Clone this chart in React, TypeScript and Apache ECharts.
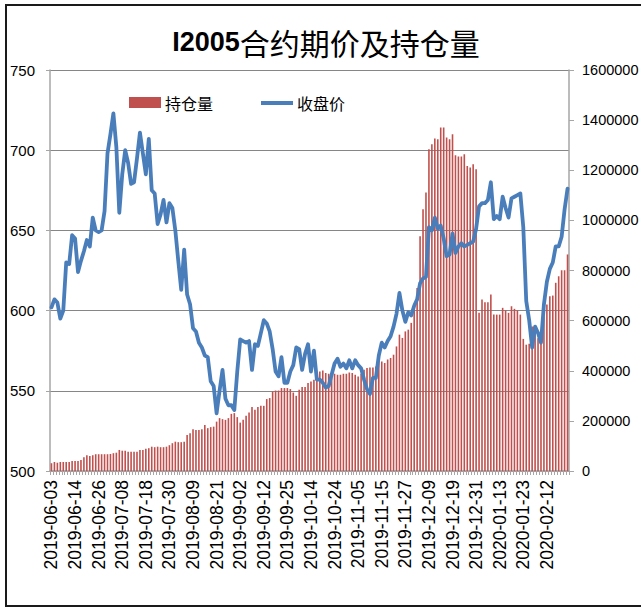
import React, { useEffect, useRef } from "react";
import * as echarts from "echarts";

const tradeDates: string[] = [
  "2019-06-03","2019-06-04","2019-06-05","2019-06-06","2019-06-10","2019-06-11","2019-06-12","2019-06-13","2019-06-14","2019-06-17",
  "2019-06-18","2019-06-19","2019-06-20","2019-06-21","2019-06-24","2019-06-25","2019-06-26","2019-06-27","2019-06-28","2019-07-01",
  "2019-07-02","2019-07-03","2019-07-04","2019-07-05","2019-07-08","2019-07-09","2019-07-10","2019-07-11","2019-07-12","2019-07-15",
  "2019-07-16","2019-07-17","2019-07-18","2019-07-19","2019-07-22","2019-07-23","2019-07-24","2019-07-25","2019-07-26","2019-07-29",
  "2019-07-30","2019-07-31","2019-08-01","2019-08-02","2019-08-05","2019-08-06","2019-08-07","2019-08-08","2019-08-09","2019-08-12",
  "2019-08-13","2019-08-14","2019-08-15","2019-08-16","2019-08-19","2019-08-20","2019-08-21","2019-08-22","2019-08-23","2019-08-26",
  "2019-08-27","2019-08-28","2019-08-29","2019-08-30","2019-09-02","2019-09-03","2019-09-04","2019-09-05","2019-09-06","2019-09-09",
  "2019-09-10","2019-09-11","2019-09-12","2019-09-16","2019-09-17","2019-09-18","2019-09-19","2019-09-20","2019-09-23","2019-09-24",
  "2019-09-25","2019-09-26","2019-09-27","2019-09-30","2019-10-08","2019-10-09","2019-10-10","2019-10-11","2019-10-14","2019-10-15",
  "2019-10-16","2019-10-17","2019-10-18","2019-10-21","2019-10-22","2019-10-23","2019-10-24","2019-10-25","2019-10-28","2019-10-29",
  "2019-10-30","2019-10-31","2019-11-01","2019-11-04","2019-11-05","2019-11-06","2019-11-07","2019-11-08","2019-11-11","2019-11-12",
  "2019-11-13","2019-11-14","2019-11-15","2019-11-18","2019-11-19","2019-11-20","2019-11-21","2019-11-22","2019-11-25","2019-11-26",
  "2019-11-27","2019-11-28","2019-11-29","2019-12-02","2019-12-03","2019-12-04","2019-12-05","2019-12-06","2019-12-09","2019-12-10",
  "2019-12-11","2019-12-12","2019-12-13","2019-12-16","2019-12-17","2019-12-18","2019-12-19","2019-12-20","2019-12-23","2019-12-24",
  "2019-12-25","2019-12-26","2019-12-27","2019-12-30","2019-12-31","2020-01-02","2020-01-03","2020-01-06","2020-01-07","2020-01-08",
  "2020-01-09","2020-01-10","2020-01-13","2020-01-14","2020-01-15","2020-01-16","2020-01-17","2020-01-20","2020-01-21","2020-01-22",
  "2020-01-23","2020-02-03","2020-02-04","2020-02-05","2020-02-06","2020-02-07","2020-02-10","2020-02-11","2020-02-12","2020-02-13",
  "2020-02-14","2020-02-17","2020-02-18","2020-02-19","2020-02-20","2020-02-21"
];

const closePrice: number[] = [
  602,607,605,595,600,630,629,647,645,624,
  631,637,644,640,658,650,649,650,662,698,
  710,723,702,661,685,700,692,679,680,695,
  711,698,685,707,675,673,654,660,669,655,
  667,664,650,631,613,638,610,604,589,587,
  580,577,572,571,556,553,536,550,563,545,
  541,541,538,562,582,581,580,581,563,579,
  578,586,594,592,587,576,562,559,571,555,
  555,562,566,577,576,563,573,579,562,575,
  557,557,555,552,553,560,567,570,565,567,
  564,569,564,569,566,564,557,551,548,558,
  558,572,580,577,581,584,590,598,611,600,
  593,599,597,603,607,617,620,621,652,650,
  658,651,653,645,634,635,648,636,640,642,
  640,641,642,643,651,665,667,667,669,680,
  657,659,657,671,664,658,670,671,672,673,
  652,606,594,577,590,586,580,604,618,626,
  630,640,640,646,663,676
];

const openInterest: number[] = [
  31000,36000,33000,36000,36000,36000,36000,40000,40000,40000,
  44000,55000,63000,60000,63000,67000,67000,67000,67000,67000,
  68000,71000,73000,84000,81000,81000,77000,77000,77000,77000,
  84000,84000,89000,91000,97000,95000,97000,95000,95000,97000,
  103000,111000,117000,115000,115000,117000,144000,151000,167000,164000,
  164000,167000,184000,171000,175000,177000,197000,211000,207000,204000,
  211000,228000,231000,215000,193000,204000,220000,233000,255000,244000,
  255000,260000,260000,287000,291000,317000,321000,321000,331000,331000,
  331000,327000,313000,300000,324000,335000,335000,351000,357000,364000,
  371000,397000,401000,391000,388000,384000,388000,384000,384000,388000,
  388000,393000,391000,384000,377000,388000,404000,411000,413000,413000,
  417000,441000,437000,431000,445000,451000,464000,497000,544000,531000,
  557000,564000,591000,667000,730000,937000,1044000,1111000,1284000,1304000,
  1327000,1324000,1371000,1371000,1331000,1324000,1344000,1260000,1255000,1255000,
  1264000,1217000,1211000,1224000,1204000,631000,684000,673000,673000,704000,
  624000,624000,624000,651000,641000,631000,657000,647000,641000,624000,
  527000,504000,508000,577000,551000,530000,544000,617000,664000,697000,
  700000,751000,777000,801000,801000,864000
];

const priceTicks = { min: 500, max: 750, interval: 50 };
const oiTicks = { min: 0, max: 1600000, interval: 200000 };

const chartTitle = ["I2005", "合约期价及持仓量"];
const seriesNames = ["持仓量", "收盘价"];

const BAR_COLOR = "#C0504D";
const LINE_COLOR = "#4A7EBB";
const NUM_FONT = "Liberation Sans";
const CJK_FONT = "Noto Sans CJK SC";

export default function App() {
  const ref = useRef<HTMLDivElement>(null);

  useEffect(() => {
    if (!ref.current) return;
    const chart = echarts.init(ref.current, undefined, { renderer: "svg" });
    chart.setOption({
      animation: false,
      backgroundColor: "#ffffff",
      grid: {
        left: 50,
        right: 72,
        top: 70,
        bottom: 139,
        containLabel: false,
        outerBoundsMode: "none",
      },
      xAxis: {
        type: "category",
        data: tradeDates,
        boundaryGap: true,
        axisLine: { show: true, lineStyle: { color: "#a6a6a6", width: 1.5 } },
        axisTick: { show: true, interval: 0, length: 4, lineStyle: { color: "#a6a6a6" } },
        axisLabel: {
          interval: 7,
          rotate: 90,
          margin: 9,
          fontSize: 17.5,
          fontFamily: NUM_FONT,
          color: "#000",
        },
        splitLine: { show: false },
      },
      yAxis: [
        {
          type: "value",
          min: priceTicks.min,
          max: priceTicks.max,
          interval: priceTicks.interval,
          position: "left",
          axisLine: { show: true, lineStyle: { color: "#a6a6a6", width: 1.5 } },
          axisTick: { show: true, length: 4, lineStyle: { color: "#a6a6a6" } },
          axisLabel: { margin: 15, fontSize: 15, fontFamily: NUM_FONT, color: "#000" },
          splitLine: { show: true, lineStyle: { color: "#868686", width: 1 } },
        },
        {
          type: "value",
          min: oiTicks.min,
          max: oiTicks.max,
          interval: oiTicks.interval,
          position: "right",
          axisLine: { show: true, lineStyle: { color: "#a6a6a6", width: 1.5 } },
          axisTick: { show: true, length: 5, lineStyle: { color: "#a6a6a6" } },
          axisLabel: {
            margin: 13,
            fontSize: 14.5,
            fontFamily: NUM_FONT,
            color: "#000",
            formatter: (v: number) => String(v),
          },
          splitLine: { show: false },
        },
      ],
      series: [
        {
          name: seriesNames[0],
          type: "bar",
          yAxisIndex: 1,
          data: openInterest,
          barWidth: 1.6,
          itemStyle: { color: BAR_COLOR },
          z: 2,
        },
        {
          name: seriesNames[1],
          type: "line",
          yAxisIndex: 0,
          data: closePrice,
          showSymbol: false,
          symbol: "none",
          lineStyle: { color: LINE_COLOR, width: 3.8, join: "round", cap: "round" },
          z: 3,
        },
      ],
      graphic: [
        {
          type: "rect",
          shape: { x: 6, y: 5, width: 645, height: 601 },
          style: { fill: "none", stroke: "#1a1a1a", lineWidth: 2 },
          silent: true,
        },
        {
          type: "text",
          x: 326,
          y: 42,
          style: {
            text: "{a|" + chartTitle[0] + "}{b|" + chartTitle[1] + "}",
            align: "center",
            verticalAlign: "middle",
            rich: {
              a: { fontSize: 27, fontWeight: "bold", fontFamily: NUM_FONT, fill: "#000" },
              b: { fontSize: 30, fontWeight: "normal", fontFamily: CJK_FONT, fill: "#000" },
            },
          },
        },
        {
          type: "rect",
          shape: { x: 129, y: 97, width: 32, height: 11 },
          style: { fill: BAR_COLOR },
        },
        {
          type: "text",
          x: 165,
          y: 103,
          style: {
            text: seriesNames[0],
            fontSize: 16,
            fontFamily: CJK_FONT,
            fill: "#000",
            align: "left",
            verticalAlign: "middle",
          },
        },
        {
          type: "line",
          shape: { x1: 261, y1: 103, x2: 293, y2: 103 },
          style: { stroke: LINE_COLOR, lineWidth: 4 },
        },
        {
          type: "text",
          x: 297,
          y: 103,
          style: {
            text: seriesNames[1],
            fontSize: 16,
            fontFamily: CJK_FONT,
            fill: "#000",
            align: "left",
            verticalAlign: "middle",
          },
        },
      ],
    });
    return () => chart.dispose();
  }, []);

  return (
    <div
      ref={ref}
      style={{ position: "absolute", left: 0, top: 0, width: 641, height: 610 }}
    />
  );
}
